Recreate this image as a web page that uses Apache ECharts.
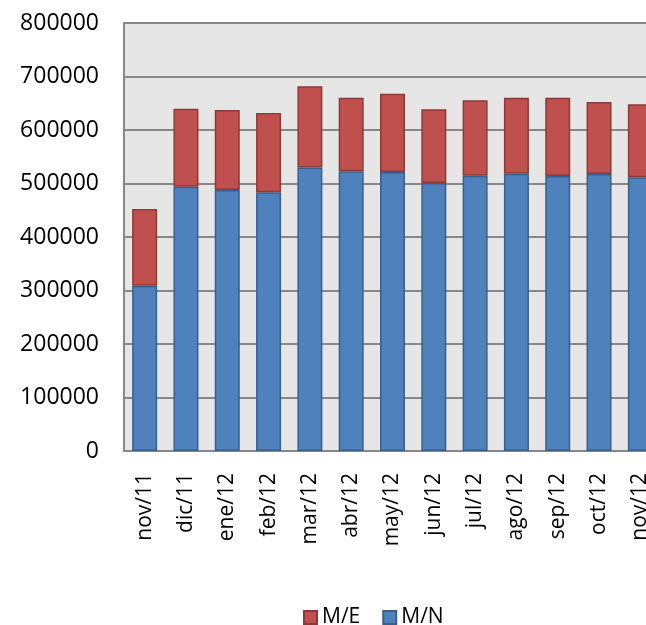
<!DOCTYPE html>
<html>
<head>
<meta charset="utf-8">
<script src="https://cdn.jsdelivr.net/npm/echarts@6/dist/echarts.min.js"></script>
<style>
html,body{margin:0;padding:0;background:#fff;}
#c{width:646px;height:625px;}
</style>
</head>
<body>
<div id="c"></div>
<script>
var categories = ['nov/11','dic/11','ene/12','feb/12','mar/12','abr/12','may/12','jun/12','jul/12','ago/12','sep/12','oct/12','nov/12'];
var valuesMN = [309000, 494000, 488000, 483500, 530000, 522700, 521500, 501000, 514600, 518300, 514000, 517800, 511500];
var valuesME = [143300, 145800, 149500, 148300, 152000, 137700, 146400, 137600, 140900, 142100, 146400, 134500, 136500];
var yTicks = { min: 0, max: 800000, interval: 100000 };

var chart = echarts.init(document.getElementById('c'));
chart.setOption({
  animation: false,
  backgroundColor: '#ffffff',
  textStyle: { fontFamily: 'Open Sans' },
  grid: {
    left: 124, top: 23, bottom: 174, right: -15,
    containLabel: false, outerBoundsMode: 'none',
    show: true, backgroundColor: '#e6e6e6', borderWidth: 0
  },
  legend: {
    data: ['M/E', 'M/N'],
    left: 298, top: 602,
    icon: 'rect',
    itemWidth: 13, itemHeight: 13, itemGap: 22,
    textStyle: { fontSize: 21, color: '#000', fontFamily: 'Open Sans' }
  },
  xAxis: {
    type: 'category',
    data: categories,
    axisLine: { lineStyle: { color: '#878787', width: 2 } },
    axisTick: { show: false },
    axisLabel: { rotate: 90, interval: 0, margin: 22, fontSize: 21, color: '#000', fontFamily: 'Open Sans' },
    splitLine: { show: false }
  },
  yAxis: {
    type: 'value',
    min: yTicks.min, max: yTicks.max, interval: yTicks.interval,
    axisLine: { show: true, lineStyle: { color: '#878787', width: 2 } },
    axisTick: { show: false },
    axisLabel: { margin: 25, fontSize: 23, color: '#000', fontFamily: 'Open Sans',
      formatter: function (v) { return String(v); } },
    splitLine: { show: true, lineStyle: { color: '#878787', width: 2 } }
  },
  series: [
    {
      name: 'M/N', type: 'bar', stack: 'total', data: valuesMN, barWidth: 25,
      itemStyle: { color: '#4f81bd', borderColor: '#3a5f8b', borderWidth: 1.5 }
    },
    {
      name: 'M/E', type: 'bar', stack: 'total', data: valuesME, barWidth: 25,
      itemStyle: { color: '#c0504d', borderColor: '#8c3a37', borderWidth: 1.5 }
    }
  ]
});
</script>
</body>
</html>
